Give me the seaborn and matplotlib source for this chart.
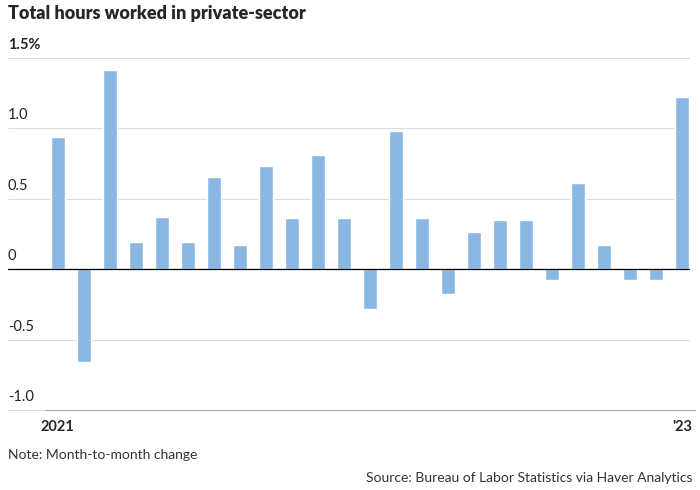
import seaborn as sns
import pandas as pd
from matplotlib import pyplot as plt

months = list(range(25))
values = [0.94, -0.66, 1.41, 0.19, 0.37, 0.19, 0.65, 0.17, 0.73, 0.36, 0.81, 0.36,
          -0.28, 0.98, 0.36, -0.18, 0.26, 0.35, 0.35, -0.08, 0.61, 0.17, -0.08, -0.08, 1.22]
y_ticks = [-1.0, -0.5, 0, 0.5, 1.0, 1.5]
y_labels = ['-1.0', '-0.5', '0', '0.5', '1.0', '1.5%']
x_ticks = [0, 12, 24]
x_labels = ['2021', '', "'23"]

sns.set_style('white')
plt.rcParams['font.family'] = ['Lato', 'DejaVu Sans']
df = pd.DataFrame({'month': months, 'value': values})

fig = plt.figure(figsize=(7, 4.9), dpi=100)
ax = fig.add_axes([0.064, 0.163, 0.929, 0.734])
sns.barplot(data=df, x='month', y='value', color='#8ab8e3', saturation=1, width=0.55, ax=ax, zorder=3)
ax.set_xlim(-0.5, 24.5)
ax.set_ylim(-1.0, 1.55)
xl = -37 / 650
for y, lab in zip(y_ticks, y_labels):
    col = 'black' if y == 0 else '#dddddd'
    ax.axhline(y, xmin=xl, xmax=0.99, color=col, lw=0.9 if y == 0 else 0.8, clip_on=False, zorder=4 if y == 0 else 1)
    ax.text(xl, y + 0.04, lab, transform=ax.get_yaxis_transform(), fontsize=10.5, ha='left', va='bottom', color='#222222', fontweight='bold' if y == 1.5 else 'normal')
ax.set_yticks([])
ax.set_xticks(x_ticks)
ax.set_xticklabels(x_labels, fontsize=10.5, fontweight='bold')
ax.tick_params(axis='x', length=5, color='#888888', direction='out', pad=2)
ax.set_xlabel('')
ax.set_ylabel('')
for s in ['top', 'right', 'left']:
    ax.spines[s].set_visible(False)
ax.spines['bottom'].set_color('#aaaaaa')

fig.text(8 / 700, 1 - 14 / 490, 'Total hours worked in private-sector', fontsize=13, fontweight='heavy', va='center')
fig.text(8 / 700, 1 - 455 / 490, 'Note: Month-to-month change', fontsize=10, va='center', color='#333333')
fig.text(692 / 700, 1 - 478 / 490, 'Source: Bureau of Labor Statistics via Haver Analytics', fontsize=10, va='center', ha='right', color='#333333')
plt.savefig('out.png')
